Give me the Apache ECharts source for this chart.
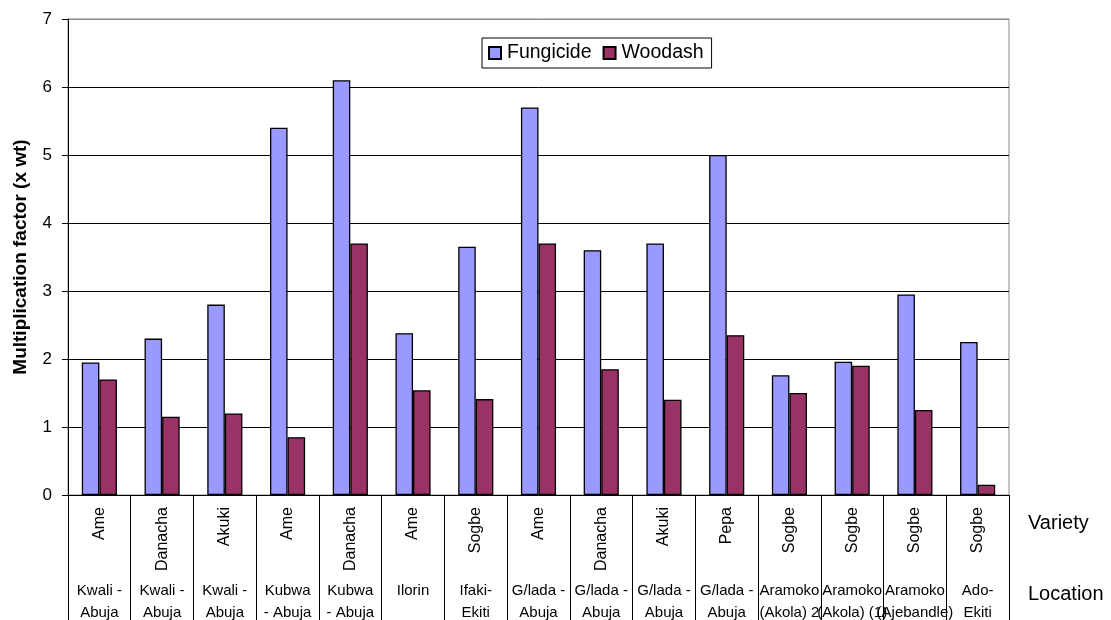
<!DOCTYPE html>
<html>
<head>
<meta charset="utf-8">
<script src="https://cdn.jsdelivr.net/npm/echarts@6/dist/echarts.min.js"></script>
<style>
html,body{margin:0;padding:0;background:#fff;}
#chart{width:1111px;height:620px;}
</style>
</head>
<body>
<div id="chart"></div>
<script>
const varieties = ['Ame','Danacha','Akuki','Ame','Danacha','Ame','Sogbe','Ame','Danacha','Akuki','Pepa','Sogbe','Sogbe','Sogbe','Sogbe'];
const locations = ['Kwali -\nAbuja','Kwali -\nAbuja','Kwali -\nAbuja','Kubwa\n- Abuja','Kubwa\n- Abuja','Ilorin','Ifaki-\nEkiti','G/lada -\nAbuja','G/lada -\nAbuja','G/lada -\nAbuja','G/lada -\nAbuja','Aramoko\n(Akola) 2','Aramoko\n(Akola) (1)','Aramoko\n(Ajebandle)','Ado-\nEkiti'];
const fungicide = [1.95, 2.30, 2.80, 5.40, 6.10, 2.38, 3.65, 5.70, 3.60, 3.70, 5.00, 1.76, 1.96, 2.95, 2.25];
const woodash   = [1.70, 1.15, 1.20, 0.85, 3.70, 1.54, 1.41, 3.70, 1.85, 1.40, 2.35, 1.50, 1.90, 1.25, 0.15];
const yTicks = ['0','1','2','3','4','5','6','7'];

const FONT = "'Liberation Sans', Arial, sans-serif";
const chart = echarts.init(document.getElementById('chart'), null, {renderer:'canvas'});
chart.setOption({
  animation: false,
  textStyle: {fontFamily: FONT, color: '#000'},
  grid: {left: 68, right: 102, top: 19, bottom: 125, containLabel: false, outerBoundsMode: 'none',
         show: true, borderColor: '#888', borderWidth: 1},
  legend: {
    left: 482, top: 38,
    data: ['Fungicide','Woodash'],
    icon: 'rect', itemWidth: 12, itemHeight: 12, itemGap: 11,
    borderColor: '#000', borderWidth: 1, padding: [5, 8, 5, 6],
    textStyle: {fontFamily: FONT, fontSize: 19.5, color: '#000', padding: [0,0,0,1]}
  },
  xAxis: [
    {
      type: 'category', data: varieties, position: 'bottom',
      axisLine: {lineStyle: {color: '#000', width: 1}},
      axisTick: {show: true, length: 126, interval: 0, lineStyle: {color: '#000', width: 1}},
      axisLabel: {interval: 0, rotate: 90, fontSize: 16, margin: 12, color: '#000', fontFamily: FONT}
    },
    {
      type: 'category', data: locations, position: 'bottom', offset: 80,
      axisLine: {show: false}, axisTick: {show: false},
      axisLabel: {interval: 0, fontSize: 15, lineHeight: 22, margin: 5, color: '#000', fontFamily: FONT}
    }
  ],
  yAxis: {
    type: 'value', min: 0, max: 7, interval: 1,
    name: 'Multiplication factor (x wt)', nameLocation: 'middle', nameGap: 38,
    nameTextStyle: {fontFamily: FONT, fontSize: 19, fontWeight: 'bold', color: '#000'},
    axisLine: {show: true, lineStyle: {color: '#000', width: 1}},
    axisTick: {show: true, length: 6, lineStyle: {color: '#000'}},
    axisLabel: {fontSize: 17, margin: 16, color: '#000', fontFamily: FONT,
      formatter: function(v){ return yTicks[Math.round(v)] !== undefined ? yTicks[Math.round(v)] : String(v); }},
    splitLine: {show: true, lineStyle: {color: ['#000','#000','#000','#000','#000','#000','#000','#888'], width: 1}}
  },
  series: [
    {name: 'Fungicide', type: 'bar', data: fungicide, barGap: '0%', barCategoryGap: '44%',
     itemStyle: {color: '#9999FF', borderColor: '#000', borderWidth: 1.3}},
    {name: 'Woodash', type: 'bar', data: woodash, barGap: '0%', barCategoryGap: '44%',
     itemStyle: {color: '#993366', borderColor: '#000', borderWidth: 1.3}}
  ],
  graphic: [
    {type: 'text', left: 1028, top: 513, style: {text: 'Variety', font: "20px " + FONT, fill: '#000'}},
    {type: 'text', left: 1028, top: 584, style: {text: 'Location', font: "20px " + FONT, fill: '#000'}}
  ]
});
</script>
</body>
</html>
